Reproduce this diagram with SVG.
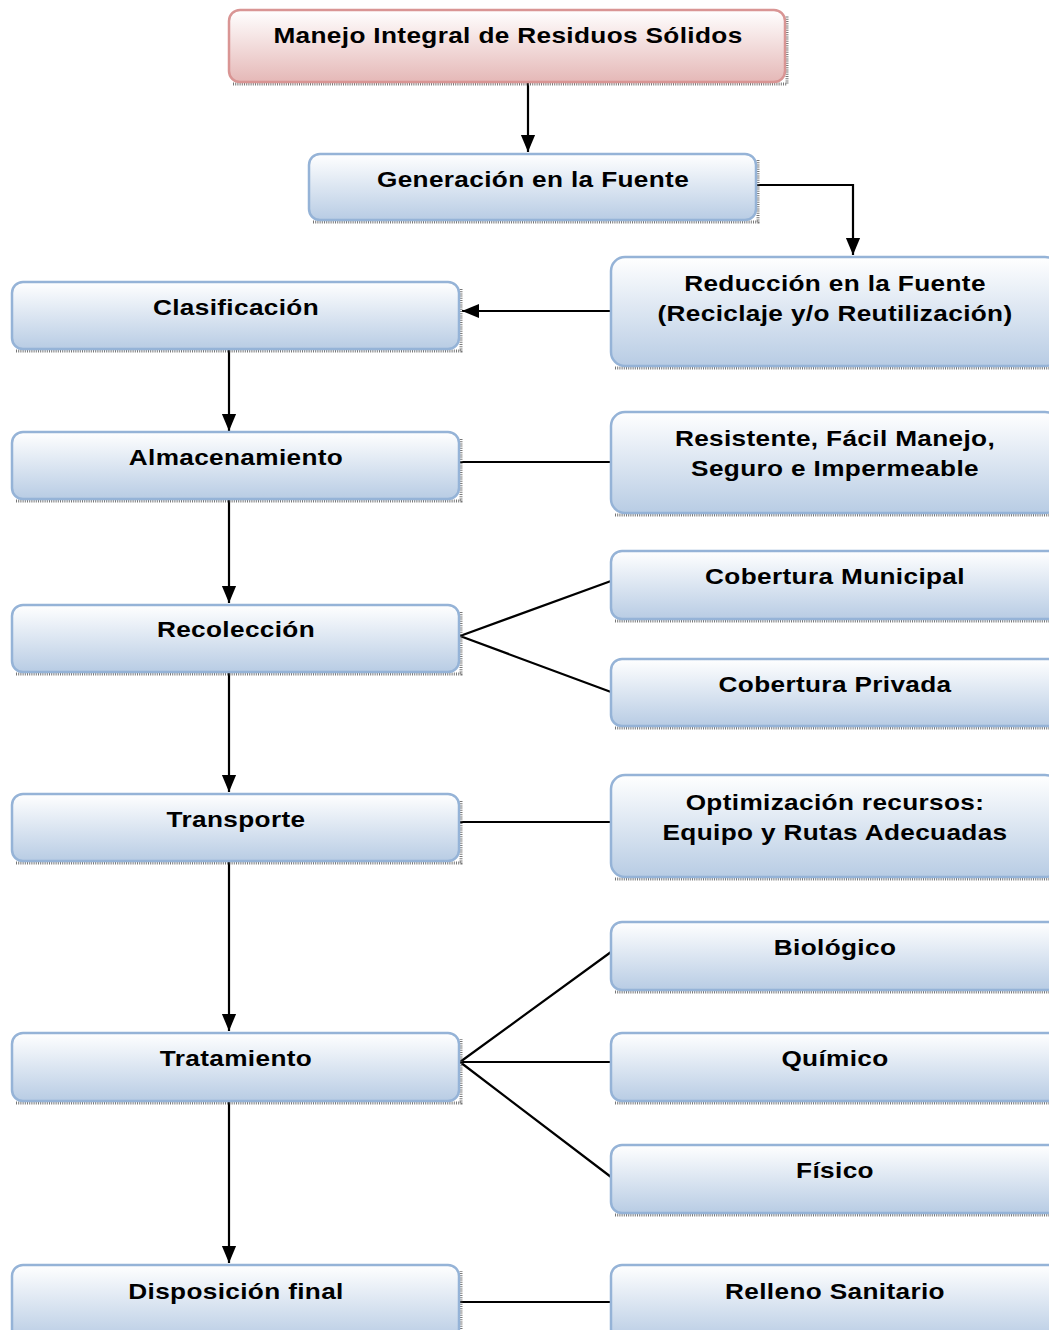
<svg xmlns="http://www.w3.org/2000/svg" width="1049" height="1330" viewBox="0 0 1049 1330">
<style>
.b{fill:url(#gb);stroke:#95b3d7;stroke-width:2.5}
.p{fill:url(#gp);stroke:#d99594;stroke-width:2.5}
.sh{fill:none;stroke:#555;stroke-width:3;stroke-dasharray:1 1.2;opacity:0.8}
text{font-family:"Liberation Sans",Arial,sans-serif;font-weight:bold;font-size:22px;fill:#000;text-anchor:middle;letter-spacing:0.3px}
.c{fill:none;stroke:#000;stroke-width:2.2}
</style>
<defs>
<linearGradient id="gb" x1="0" y1="0" x2="0" y2="1"><stop offset="0" stop-color="#ffffff"/><stop offset="1" stop-color="#b8cce4"/></linearGradient>
<linearGradient id="gp" x1="0" y1="0" x2="0" y2="1"><stop offset="0" stop-color="#ffffff"/><stop offset="1" stop-color="#e5b8b7"/></linearGradient>
<marker id="a" viewBox="0 0 12 12" refX="12" refY="6" markerWidth="17" markerHeight="17" markerUnits="userSpaceOnUse" orient="auto"><path d="M0,1 L12,6 L0,11 z" fill="#000"/></marker>
</defs>
<g id="connectors">
<path class="c" d="M528,82 V152" marker-end="url(#a)"/>
<path class="c" d="M757,185 H853 V255" marker-end="url(#a)"/>
<path class="c" d="M611,311 H462" marker-end="url(#a)"/>
<path class="c" d="M229,349 V431" marker-end="url(#a)"/>
<path class="c" d="M229,499 V603" marker-end="url(#a)"/>
<path class="c" d="M229,672 V792" marker-end="url(#a)"/>
<path class="c" d="M229,861 V1031" marker-end="url(#a)"/>
<path class="c" d="M229,1101 V1263" marker-end="url(#a)"/>
<path class="c" d="M460,462 H611"/>
<path class="c" d="M460,636 L611,581 M460,636 L611,692"/>
<path class="c" d="M460,822 H611"/>
<path class="c" d="M460,1062 L611,952 M460,1062 H611 M460,1062 L611,1177"/>
<path class="c" d="M460,1302 H611"/>
</g>
<g id="n-manejo"><path class="sh" d="M233,84 H787 V16"/><rect class="p" x="229" y="10" width="556" height="72" rx="11"/><text transform="matrix(1.19 0 0 1 508 43)">Manejo Integral de Residuos Sólidos</text></g>
<g id="n-generacion"><path class="sh" d="M313,222 H758 V160"/><rect class="b" x="309" y="154" width="447" height="66" rx="11"/><text transform="matrix(1.19 0 0 1 533 187)">Generación en la Fuente</text></g>
<g id="n-reduccion"><path class="sh" d="M615,368 H1060"/><rect class="b" x="611" y="257" width="448" height="109" rx="14"/><text transform="matrix(1.19 0 0 1 835 291)">Reducción en la Fuente</text><text transform="matrix(1.19 0 0 1 835 321)">(Reciclaje y/o Reutilización)</text></g>
<g id="n-clasificacion"><path class="sh" d="M16,351 H461 V288"/><rect class="b" x="12" y="282" width="447" height="67" rx="11"/><text transform="matrix(1.19 0 0 1 236 315)">Clasificación</text></g>
<g id="n-almacenamiento"><path class="sh" d="M16,501 H461 V438"/><rect class="b" x="12" y="432" width="447" height="67" rx="11"/><text transform="matrix(1.19 0 0 1 236 465)">Almacenamiento</text></g>
<g id="n-resistente"><path class="sh" d="M615,515 H1060"/><rect class="b" x="611" y="412" width="448" height="101" rx="14"/><text transform="matrix(1.19 0 0 1 835 446)">Resistente, Fácil Manejo,</text><text transform="matrix(1.19 0 0 1 835 476)">Seguro e Impermeable</text></g>
<g id="n-recoleccion"><path class="sh" d="M16,674 H461 V611"/><rect class="b" x="12" y="605" width="447" height="67" rx="11"/><text transform="matrix(1.19 0 0 1 236 637)">Recolección</text></g>
<g id="n-municipal"><path class="sh" d="M615,621 H1060"/><rect class="b" x="611" y="551" width="448" height="68" rx="11"/><text transform="matrix(1.19 0 0 1 835 584)">Cobertura Municipal</text></g>
<g id="n-privada"><path class="sh" d="M615,728 H1060"/><rect class="b" x="611" y="659" width="448" height="67" rx="11"/><text transform="matrix(1.19 0 0 1 835 692)">Cobertura Privada</text></g>
<g id="n-transporte"><path class="sh" d="M16,863 H461 V800"/><rect class="b" x="12" y="794" width="447" height="67" rx="11"/><text transform="matrix(1.19 0 0 1 236 827)">Transporte</text></g>
<g id="n-optimizacion"><path class="sh" d="M615,879 H1060"/><rect class="b" x="611" y="775" width="448" height="102" rx="14"/><text transform="matrix(1.19 0 0 1 835 810)">Optimización recursos:</text><text transform="matrix(1.19 0 0 1 835 840)">Equipo y Rutas Adecuadas</text></g>
<g id="n-biologico"><path class="sh" d="M615,992 H1060"/><rect class="b" x="611" y="922" width="448" height="68" rx="11"/><text transform="matrix(1.19 0 0 1 835 955)">Biológico</text></g>
<g id="n-tratamiento"><path class="sh" d="M16,1103 H461 V1039"/><rect class="b" x="12" y="1033" width="447" height="68" rx="11"/><text transform="matrix(1.19 0 0 1 236 1066)">Tratamiento</text></g>
<g id="n-quimico"><path class="sh" d="M615,1103 H1060"/><rect class="b" x="611" y="1033" width="448" height="68" rx="11"/><text transform="matrix(1.19 0 0 1 835 1066)">Químico</text></g>
<g id="n-fisico"><path class="sh" d="M615,1215 H1060"/><rect class="b" x="611" y="1145" width="448" height="68" rx="11"/><text transform="matrix(1.19 0 0 1 835 1178)">Físico</text></g>
<g id="n-disposicion"><path class="sh" d="M461,1340 V1271"/><rect class="b" x="12" y="1265" width="447" height="75" rx="11"/><text transform="matrix(1.19 0 0 1 236 1299)">Disposición final</text></g>
<g id="n-relleno"><rect class="b" x="611" y="1265" width="448" height="75" rx="11"/><text transform="matrix(1.19 0 0 1 835 1299)">Relleno Sanitario</text></g>
</svg>
